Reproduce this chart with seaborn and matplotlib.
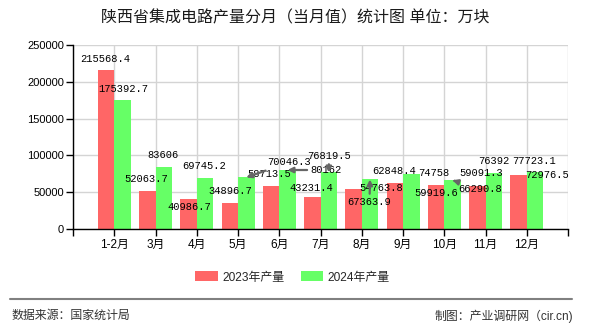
import matplotlib
matplotlib.use('Agg')
import matplotlib.pyplot as plt
from matplotlib.lines import Line2D
import seaborn as sns
import pandas as pd

# ---------------- data ----------------
months = ['1-2月', '3月', '4月', '5月', '6月', '7月', '8月', '9月', '10月', '11月', '12月']
series_names = ['2023年产量', '2024年产量']
prod_2023 = [215568.4, 52063.7, 40986.7, 34896.7, 58713.5, 43231.4, 54763.8, 62848.4, 59919.6, 59091.3, 72976.5]
prod_2024 = [175392.7, 83606, 69745.2, 70046.3, 80162, 76819.5, 67363.9, 74758, 66290.8, 76392, 77723.1]
y_ticks = [0, 50000, 100000, 150000, 200000, 250000]
title = '陕西省集成电路产量分月（当月值）统计图 单位：万块'
source_text = '数据来源：国家统计局'
credit_text = '制图：产业调研网（cir.cn)'

# ---------------- styles ----------------
colors = ['#FF6666', '#66FF66']
# label offsets (pixels) from each bar top
off_2023 = [(-0.5, 11.3), (-0.75, 11.7), (0.5, -7.9), (0.25, 12.3), (-1.5, 11.5), (-1.25, 8.9),
            (28, 0.4), (-0.25, 11.7), (0, -8.4), (3.75, 12.8), (28.5, 0.3)]
off_2024 = [(0.5, 11.2), (-0.25, 12.5), (-1, 11.7), (42.75, 15.1), (38.5, 0), (0.25, 16.5),
            (-0.5, -22.6), (22.25, 1.3), (28, -9.1), (0.25, 11.8), (-1, 10.8)]
leader_2024 = {3, 4, 5, 6, 8}

sns.set_theme(style='white')
plt.rcParams['font.family'] = ['Liberation Sans', 'Noto Sans CJK SC']

df = pd.DataFrame({
    '月份': months * 2,
    '产量': prod_2023 + prod_2024,
    '年份': [series_names[0]] * len(months) + [series_names[1]] * len(months),
})

W, H = 590, 330
fig = plt.figure(figsize=(W / 100, H / 100), dpi=100)
fig.patch.set_facecolor('white')
ax = fig.add_axes([73 / W, 1 - 229 / H, 495 / W, 184 / H])

sns.barplot(data=df, x='月份', y='产量', hue='年份', order=months, hue_order=series_names,
            palette=colors, saturation=1, width=0.8, linewidth=0, ax=ax)

handles, labels = ax.get_legend_handles_labels()
if ax.get_legend() is not None:
    ax.get_legend().remove()

ax.set_xlim(-1, len(months))
ax.set_ylim(y_ticks[0], y_ticks[-1])
ax.set_xticks(range(-1, len(months) + 1))
ax.set_xticklabels([''] + months + [''])
ax.set_yticks(y_ticks)
ax.set_yticklabels([str(t) for t in y_ticks])
ax.set_xlabel('')
ax.set_ylabel('')
ax.grid(True, color='#d4d4d4', lw=1)
ax.set_axisbelow(True)
for s in ['top', 'right']:
    ax.spines[s].set_visible(False)
for s in ['left', 'bottom']:
    ax.spines[s].set_color('black')
    ax.spines[s].set_linewidth(1)
ax.tick_params(axis='both', direction='out', length=5, width=1, color='black',
               labelcolor='black', left=True, bottom=True)
ax.tick_params(axis='y', labelsize=8, pad=1.5)
ax.tick_params(axis='x', labelsize=8.5, pad=2)


def fmt(v):
    return ('%.1f' % v).rstrip('0').rstrip('.')


for si, (cont, vals, offs) in enumerate(zip(ax.containers, [prod_2023, prod_2024], [off_2023, off_2024])):
    for i, (bar, v, (dx, dy)) in enumerate(zip(cont, vals, offs)):
        x = bar.get_x() + bar.get_width() / 2
        y = bar.get_height()
        kw = {}
        if si == 1 and i in leader_2024:
            kw['arrowprops'] = dict(arrowstyle='-|>', color='#666666', lw=1.6,
                                    mutation_scale=8, shrinkA=0, shrinkB=0)
        ax.annotate(fmt(v), xy=(x, y), xytext=(dx, dy), textcoords='offset pixels',
                    ha='center', va='center', fontsize=7.5, family='Liberation Mono',
                    color='black', **kw)

fig.legend(handles, labels, loc='center', bbox_to_anchor=(292.5 / W, 1 - 277.5 / H), ncol=2,
           frameon=False, fontsize=8.6, handlelength=1.85, handleheight=0.9,
           handletextpad=0.4, columnspacing=1.35)

fig.text(295.5 / W, 1 - 18 / H, title, ha='center', va='center', fontsize=11.5, color='#1a1a1a')
fig.add_artist(Line2D([10 / W, 572 / W], [1 - 298.5 / H] * 2, color='#808080', lw=1.5))
fig.text(12 / W, 1 - 316 / H, source_text, ha='left', va='center', fontsize=8.6, color='#333333')
fig.text(573 / W, 1 - 316 / H, credit_text, ha='right', va='center', fontsize=8.6, color='#333333')

fig.savefig('out.png', dpi=100)
